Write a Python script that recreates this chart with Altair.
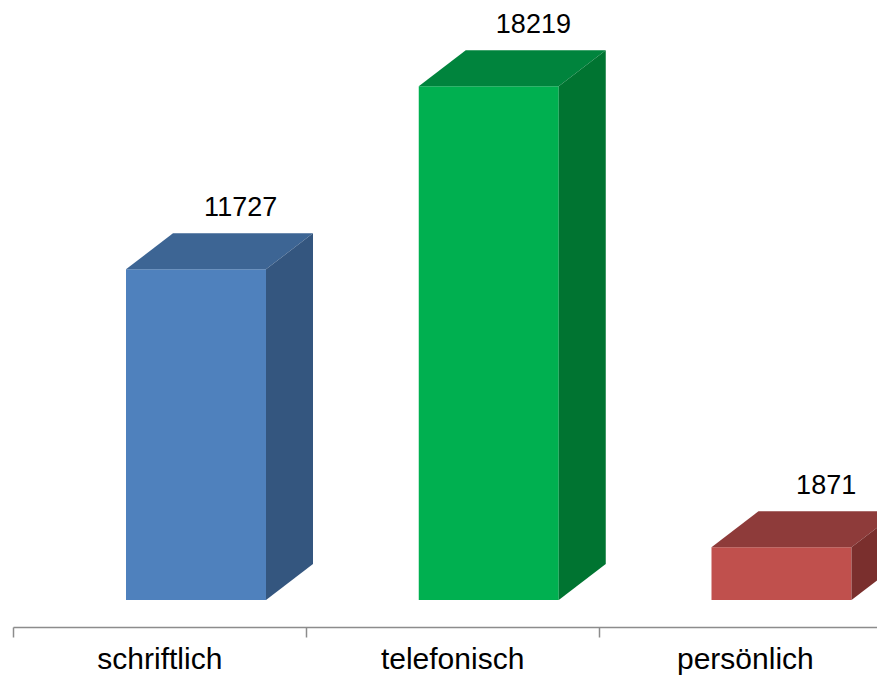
import altair as alt
import pandas as pd

# ---- data ----
categories = ["schriftlich", "telefonisch", "persönlich"]
values = [11727, 18219, 1871]
front_colors = ["#4F81BD", "#00B050", "#C0504D"]
top_colors = ["#3D6594", "#00843D", "#8E3B3A"]
side_colors = ["#34567F", "#007431", "#7A2F2D"]

# ---- layout (pixels) ----
W, H = 869, 669
BAND_PX = 292.75          # width of one category band
X0_PX = 5                 # left edge of first band inside the chart
Y0_PX = 592               # pixel row of the value 0 (front base)
PX_PER_VAL = 0.0282       # pixels per unit of value
FRONT_LEFT = 113 / BAND_PX
FRONT_W = 140 / BAND_PX
DEPTH_X = 47 / BAND_PX
DEPTH_Y = 36 / PX_PER_VAL

x_dom = [-X0_PX / BAND_PX, (W - X0_PX) / BAND_PX]
y_dom = [(Y0_PX - H) / PX_PER_VAL, Y0_PX / PX_PER_VAL]

xs = alt.Scale(domain=x_dom, nice=False, zero=False)
ys = alt.Scale(domain=y_dom, nice=False, zero=False)

rows = []
for i, (cat, v) in enumerate(zip(categories, values)):
    left = i + FRONT_LEFT
    right = left + FRONT_W
    # front face
    rows += [
        dict(poly=f"{i}f", x=left, y=0, y2=v, color=front_colors[i]),
        dict(poly=f"{i}f", x=right, y=0, y2=v, color=front_colors[i]),
    ]
    # top face
    rows += [
        dict(poly=f"{i}t", x=left, y=v, y2=v, color=top_colors[i]),
        dict(poly=f"{i}t", x=left + DEPTH_X, y=v, y2=v + DEPTH_Y, color=top_colors[i]),
        dict(poly=f"{i}t", x=right, y=v, y2=v + DEPTH_Y, color=top_colors[i]),
        dict(poly=f"{i}t", x=right + DEPTH_X, y=v + DEPTH_Y, y2=v + DEPTH_Y, color=top_colors[i]),
    ]
    # side face
    rows += [
        dict(poly=f"{i}s", x=right, y=0, y2=v, color=side_colors[i]),
        dict(poly=f"{i}s", x=right + DEPTH_X, y=DEPTH_Y, y2=v + DEPTH_Y, color=side_colors[i]),
    ]
poly_df = pd.DataFrame(rows)

faces = alt.Chart(poly_df).mark_area(orient="vertical", clip=True).encode(
    x=alt.X("x:Q", scale=xs, axis=None),
    y=alt.Y("y:Q", scale=ys, axis=None),
    y2="y2:Q",
    color=alt.Color("color:N", scale=None),
    detail="poly:N",
)

label_df = pd.DataFrame({
    "x": [i + FRONT_LEFT + FRONT_W / 2 + DEPTH_X * 0.95 for i in range(len(values))],
    "y": [v + DEPTH_Y for v in values],
    "label": [str(v) for v in values],
})
labels = alt.Chart(label_df).mark_text(
    font="Liberation Sans", fontSize=27, color="#000000", baseline="alphabetic", dy=-17
).encode(
    x=alt.X("x:Q", scale=xs, axis=None),
    y=alt.Y("y:Q", scale=ys, axis=None),
    text="label:N",
)

cat_df = pd.DataFrame({"category": categories})
cat_axis = alt.Chart(cat_df).mark_point(opacity=0).encode(
    x=alt.X(
        "category:N",
        sort=categories,
        scale=alt.Scale(type="band", domain=categories,
                        range=[X0_PX, X0_PX + 3 * BAND_PX],
                        paddingInner=0, paddingOuter=0),
        axis=alt.Axis(
            orient="bottom", title=None, offset=-(H - 619),
            domainColor="#8C8C8C", domainWidth=1.5,
            tickColor="#8C8C8C", tickWidth=1.5, tickSize=10, tickBand="extent",
            labelAngle=0, labelFont="Liberation Sans", labelFontSize=30,
            labelColor="#000000", labelPadding=7, grid=False,
        ),
    ),
)

chart = alt.layer(faces, labels, cat_axis).resolve_scale(x="independent").properties(
    width=W, height=H, padding=0, autosize=alt.AutoSizeParams(type="none"),
).configure_view(stroke=None)

chart.save("out.html", embed_options={"renderer": "svg", "actions": False})
